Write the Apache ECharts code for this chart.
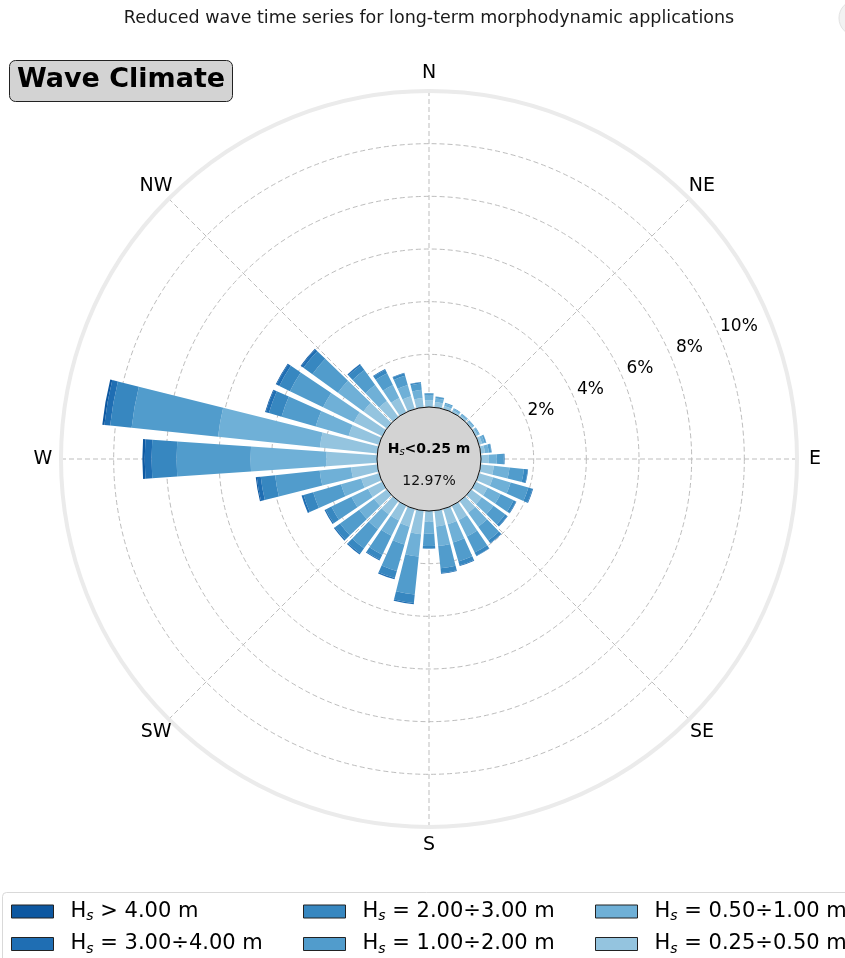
<!DOCTYPE html>
<html>
<head>
<meta charset="utf-8">
<script src="https://cdn.jsdelivr.net/npm/echarts@6/dist/echarts.min.js"></script>
<style>
  html, body { margin: 0; padding: 0; background: #ffffff; }
  #chart { width: 845px; height: 958px; }
</style>
</head>
<body>
<div id="chart"></div>
<script>
// Direction sectors, 10 degrees wide, clockwise from North
const directions = ['0','10','20','30','40','50','60','70','80','90','100','110',
  '120','130','140','150','160','170','180','190','200','210','220','230',
  '240','250','260','270','280','290','300','310','320','330','340','350'];

// Frequency (%) of each wave-height class per direction sector
const hs025_050 = [0.25,0.20,0.12,0.08,0.07,0.07,0.08,0.12,0.16,0.30,0.50,0.55,
  0.50,0.50,0.55,0.60,0.60,0.60,0.40,0.90,0.70,0.62,0.62,0.60,
  0.60,0.70,1.00,1.92,2.19,1.20,1.20,1.10,0.75,0.60,0.50,0.35];
const hs050_100 = [0.18,0.14,0.09,0.06,0.05,0.05,0.06,0.10,0.15,0.30,0.60,0.70,
  0.55,0.55,0.65,0.70,0.72,0.75,0.45,0.85,0.70,0.65,0.70,0.70,
  0.70,0.80,1.20,2.88,3.89,1.30,1.30,1.20,0.75,0.55,0.45,0.32];
const hs100_200 = [0.08,0.06,0.04,0.03,0.03,0.03,0.03,0.06,0.09,0.25,0.55,0.70,
  0.55,0.55,0.65,0.68,0.75,0.85,0.48,1.45,1.05,0.80,0.90,0.90,
  0.85,1.10,1.70,2.81,3.30,1.35,1.40,1.20,0.70,0.50,0.36,0.24];
const hs200_300 = [0.02,0.01,0.00,0.00,0.00,0.00,0.00,0.01,0.02,0.05,0.14,0.16,
  0.10,0.10,0.12,0.13,0.15,0.18,0.09,0.32,0.28,0.20,0.24,0.24,
  0.24,0.38,0.55,0.95,0.82,0.50,0.45,0.42,0.23,0.15,0.10,0.05];
const hs300_400 = [0.00,0.00,0.00,0.00,0.00,0.00,0.00,0.00,0.00,0.00,0.02,0.03,
  0.02,0.02,0.02,0.02,0.03,0.03,0.01,0.05,0.05,0.04,0.05,0.05,
  0.05,0.08,0.15,0.26,0.22,0.12,0.12,0.10,0.05,0.03,0.02,0.01];
const hsOver400 = [0,0,0,0,0,0,0,0,0,0,0,0,
  0,0,0,0,0,0,0,0,0,0,0,0,
  0,0,0.04,0.09,0.08,0.03,0.03,0.03,0.01,0,0,0];

// Calm share (Hs below threshold)
const calmPct = 12.97;

// Axis labels
const compassNames = ['N','NE','E','SE','S','SW','W','NW'];
const compassAngles = [0,45,90,135,180,225,270,315];
const radialTicks = [2,4,6,8,10];

const classNames = ['H_s = 0.25÷0.50 m','H_s = 0.50÷1.00 m','H_s = 1.00÷2.00 m',
  'H_s = 2.00÷3.00 m','H_s = 3.00÷4.00 m','H_s > 4.00 m'];
const classData = [hs025_050, hs050_100, hs100_200, hs200_300, hs300_400, hsOver400];
const classColors = ['#94c4df','#6fb0d7','#519ccc','#3787c0','#1f6eb3','#0d58a1'];

const CX = 429, CY = 459, R_IN = 52, R_OUT = 368;
const FONT = '"DejaVu Sans", sans-serif';
const GRID = { color: '#bdbdbd', width: 1, type: [5, 3] };

const chart = echarts.init(document.getElementById('chart'), null, { renderer: 'canvas' });

const barSeries = classNames.map((name, i) => ({
  name: name,
  type: 'bar',
  coordinateSystem: 'polar',
  polarIndex: 0,
  stack: 'rose',
  barCategoryGap: '20%',
  data: classData[i],
  itemStyle: { color: classColors[i] },
  emphasis: { disabled: true },
  silent: true,
  z: 3
}));

const labelSeries = [
  {
    type: 'scatter', coordinateSystem: 'polar', polarIndex: 2,
    symbolSize: 0, silent: true, z: 4, itemStyle: { opacity: 1 },
    data: compassNames.map((n, i) => ({ name: n, value: [12, compassAngles[i]] })),
    label: { show: true, position: 'inside', formatter: p => p.name,
      fontFamily: FONT, fontSize: 19, color: '#000', textBorderWidth: 0 }
  },
  {
    type: 'scatter', coordinateSystem: 'polar', polarIndex: 3,
    symbolSize: 0, silent: true, z: 4, itemStyle: { opacity: 1 },
    data: radialTicks.map(v => ({ name: v + '%', value: [v, 66.8] })),
    label: { show: true, position: 'inside', formatter: p => p.name,
      fontFamily: FONT, fontSize: 17, color: '#000', textBorderWidth: 0 }
  }
];

const legendRich = {
  h: { fontFamily: FONT, fontSize: 21, color: '#000' },
  s: { fontFamily: FONT, fontSize: 14, fontStyle: 'italic', color: '#000', padding: [10, 0, 0, 0] }
};
function legendFmt(name) {
  return name.replace('H_s', '{h|H}{s|s}{h|') + '}';
}
function makeLegend(names, left) {
  return {
    data: names, orient: 'vertical', left: left, top: 901, padding: 0,
    itemWidth: 42, itemHeight: 13, itemGap: 10,
    icon: 'rect', selectedMode: false,
    itemStyle: { borderColor: '#222', borderWidth: 1 },
    formatter: legendFmt,
    textStyle: { fontFamily: FONT, fontSize: 21, color: '#000', rich: legendRich, padding: [0, 0, 0, 12] }
  };
}

const option = {
  backgroundColor: '#ffffff',
  animation: false,
  polar: [
    { center: [CX, CY], radius: [R_IN, R_OUT] },           // bars
    { center: [CX, CY], radius: [R_IN, R_OUT] },           // grid
    { center: [CX, CY], radius: [R_IN + 18, R_OUT + 18] }, // compass labels
    { center: [CX, CY], radius: [R_IN + 16, R_OUT + 23] }  // percentage labels
  ],
  angleAxis: [
    { polarIndex: 0, type: 'category', data: directions, startAngle: 95, clockwise: true,
      boundaryGap: true, axisLine: { show: false }, axisTick: { show: false },
      axisLabel: { show: false }, splitLine: { show: false } },
    { polarIndex: 1, type: 'value', min: 0, max: 360, interval: 45, startAngle: 90, clockwise: true,
      axisLine: { show: true, lineStyle: { color: '#ebebeb', width: 4 } },
      axisTick: { show: false }, axisLabel: { show: false },
      splitLine: { show: true, lineStyle: GRID } },
    { polarIndex: 2, type: 'value', min: 0, max: 360, startAngle: 90, clockwise: true, show: false },
    { polarIndex: 3, type: 'value', min: 0, max: 360, startAngle: 90, clockwise: true, show: false }
  ],
  radiusAxis: [
    { polarIndex: 0, type: 'value', min: 0, max: 12, show: false },
    { polarIndex: 1, type: 'value', min: 0, max: 12, interval: 2,
      axisLine: { show: false }, axisTick: { show: false }, axisLabel: { show: false },
      splitLine: { show: true, lineStyle: GRID } },
    { polarIndex: 2, type: 'value', min: 0, max: 12, show: false },
    { polarIndex: 3, type: 'value', min: 0, max: 12, show: false }
  ],
  legend: [
    makeLegend([classNames[5], classNames[4]], 11),
    makeLegend([classNames[3], classNames[2]], 303),
    makeLegend([classNames[1], classNames[0]], 595)
  ],
  series: barSeries.concat(labelSeries),
  graphic: [
    // chart heading
    { type: 'text', x: 429, y: 18, z: 10,
      style: { text: 'Reduced wave time series for long-term morphodynamic applications',
        fontFamily: FONT, fontSize: 17.5, fill: '#1a1a1a', align: 'center', verticalAlign: 'middle' } },
    // corner badge
    { type: 'circle', shape: { cx: 857, cy: 18, r: 18 }, z: 1,
      style: { fill: '#f2f2f2', stroke: '#e2e2e2', lineWidth: 1 } },
    // "Wave Climate" tag
    { type: 'rect', shape: { x: 9.5, y: 60.5, width: 223, height: 41, r: 6 }, z: 10,
      style: { fill: '#d3d3d3', stroke: '#222', lineWidth: 1 } },
    { type: 'text', x: 121, y: 80, z: 11,
      style: { text: 'Wave Climate', fontFamily: FONT, fontWeight: 'bold', fontSize: 27,
        fill: '#000', align: 'center', verticalAlign: 'middle' } },
    // legend frame
    { type: 'rect', shape: { x: 2.5, y: 892.5, width: 900, height: 90, r: 4 }, z: 0,
      style: { fill: '#ffffff', stroke: '#d9d9d9', lineWidth: 1 } },
    // calm circle
    { type: 'circle', shape: { cx: CX, cy: CY, r: R_IN }, z: 20,
      style: { fill: '#d3d3d3', stroke: '#111', lineWidth: 1 } },
    { type: 'text', x: CX, y: CY - 10, z: 21,
      style: { text: '{b|H}{s|s}{b|<0.25 m}', align: 'center', verticalAlign: 'middle',
        rich: {
          b: { fontFamily: FONT, fontWeight: 'bold', fontSize: 14, fill: '#000' },
          s: { fontFamily: FONT, fontStyle: 'italic', fontSize: 10, fill: '#000', padding: [6, 0, 0, 0] }
        } } },
    { type: 'text', x: CX, y: CY + 22, z: 21,
      style: { text: calmPct.toFixed(2) + '%', fontFamily: FONT, fontSize: 14, fill: '#111',
        align: 'center', verticalAlign: 'middle' } }
  ]
};

chart.setOption(option);
</script>
</body>
</html>
